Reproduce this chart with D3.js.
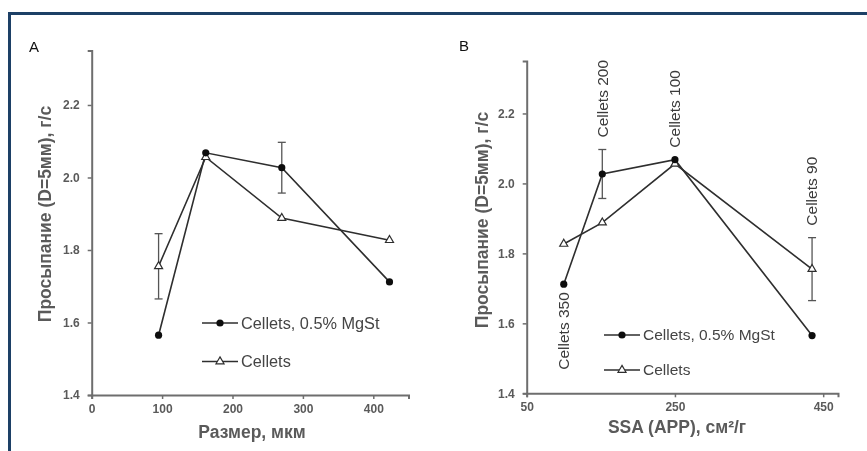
<!DOCTYPE html>
<html>
<head>
<meta charset="utf-8">
<script src="https://cdn.jsdelivr.net/npm/d3@7"></script>
<style>
  html, body { margin: 0; padding: 0; background: #fff; }
  svg { display: block; }
</style>
</head>
<body>
<svg id="chart" width="867" height="451"></svg>
<script>
// Cellets grades measured with and without 0.5% magnesium stearate
const grades = ["Cellets 90", "Cellets 100", "Cellets 200", "Cellets 350"];
const sizeUm = [95, 162, 270, 423];          // particle size, µm
const ssa = [435, 250, 152, 100];            // specific surface area, cm²/g
const mgstFlow = [1.565, 2.068, 2.027, 1.712];
const mgstErr = [0, 0, 0.07, 0];
const plainFlow = [1.755, 2.056, 1.888, 1.827];
const plainErr = [0.09, 0, 0, 0];
const labelSide = ["above", "above", "above", "below"];

const yTicks = [1.4, 1.6, 1.8, 2.0, 2.2];
const xTicksA = [0, 100, 200, 300, 400];
const xTicksB = [50, 250, 450];
const seriesNames = ["Cellets, 0.5% MgSt", "Cellets"];

const yTitle = "Просыпание (D=5мм), г/с";

const FONT = "Arial, 'Liberation Sans', sans-serif";
const svg = d3.select("#chart");

// soft focus filter for the plotted content
const defs = svg.append("defs");
defs.append("filter").attr("id", "soft")
  .attr("x", "-5%").attr("y", "-5%").attr("width", "110%").attr("height", "110%")
  .append("feGaussianBlur").attr("stdDeviation", 0.6);

// frame lines
const frameColor = "#1d4066";
svg.append("rect").attr("x", 8).attr("y", 12).attr("width", 859).attr("height", 3).attr("fill", frameColor);
svg.append("rect").attr("x", 8).attr("y", 12).attr("width", 3).attr("height", 439).attr("fill", frameColor);

const rows = grades.map((g, i) => ({
  grade: g, size: sizeUm[i], ssa: ssa[i],
  mgst: mgstFlow[i], mgstErr: mgstErr[i],
  plain: plainFlow[i], plainErr: plainErr[i],
  side: labelSide[i]
}));

const AXIS = "#6e6e6e";
const LINE = "#2e2e2e";
const TEXT = "#5a5a5a";

function panel(opt) {
  const g = svg.append("g").attr("filter", "url(#soft)");
  const x = d3.scaleLinear().domain(opt.xDomain).range(opt.xRange);
  const y = d3.scaleLinear().domain([1.4, 2.35]).range(opt.yRange);
  const x0 = opt.xRange[0], y0 = opt.yRange[0];

  // axes
  const ya = g.append("g").attr("transform", `translate(${x0},0)`)
    .call(d3.axisLeft(y).tickValues(yTicks).tickFormat(d3.format(".1f")).tickSizeOuter(0).tickSize(4).tickPadding(8));
  const xa = g.append("g").attr("transform", `translate(0,${y0})`)
    .call(d3.axisBottom(x).tickValues(opt.xTicks).tickFormat(d3.format("d")).tickSizeOuter(0).tickSize(4).tickPadding(5));
  [ya, xa].forEach(a => {
    a.select(".domain").attr("stroke", AXIS).attr("stroke-width", 2);
    a.selectAll(".tick line").attr("stroke", AXIS).attr("stroke-width", 1.5);
    a.selectAll(".tick text").attr("fill", TEXT).attr("font-family", FONT)
      .attr("font-size", 12).attr("font-weight", "bold");
  });

  // axis titles
  g.append("text")
    .attr("transform", `translate(${opt.yTitleX},${opt.yTitleY}) rotate(-90)`)
    .attr("text-anchor", "middle").attr("dy", "0.35em")
    .attr("font-family", FONT).attr("font-size", 17.5).attr("font-weight", "bold")
    .attr("fill", TEXT).text(yTitle);
  g.append("text")
    .attr("x", opt.xTitleX).attr("y", opt.xTitleY).attr("text-anchor", "middle").attr("dy", "0.35em")
    .attr("font-family", FONT).attr("font-size", 17.5).attr("font-weight", "bold")
    .attr("fill", TEXT).text(opt.xTitle);

  // panel letter
  svg.append("text").attr("x", opt.letterX).attr("y", opt.letterY).attr("dy", "0.35em")
    .attr("font-family", FONT).attr("font-size", 15)
    .attr("fill", "#111").text(opt.letter);

  const sorted = rows.slice().sort((a, b) => opt.xv(a) - opt.xv(b));
  const line = key => d3.line().x(d => x(opt.xv(d))).y(d => y(d[key]));

  // error bars
  [["mgst", "mgstErr"], ["plain", "plainErr"]].forEach(([k, e]) => {
    sorted.filter(d => d[e] > 0).forEach(d => {
      const cx = x(opt.xv(d));
      g.append("line").attr("x1", cx).attr("x2", cx).attr("y1", y(d[k] - d[e])).attr("y2", y(d[k] + d[e]))
        .attr("stroke", "#555").attr("stroke-width", 1.3);
      [d[k] - d[e], d[k] + d[e]].forEach(v => {
        g.append("line").attr("x1", cx - 4).attr("x2", cx + 4).attr("y1", y(v)).attr("y2", y(v))
          .attr("stroke", "#555").attr("stroke-width", 1.3);
      });
    });
  });

  // series lines
  g.append("path").datum(sorted).attr("d", line("plain")).attr("fill", "none").attr("stroke", LINE).attr("stroke-width", 1.6);
  g.append("path").datum(sorted).attr("d", line("mgst")).attr("fill", "none").attr("stroke", LINE).attr("stroke-width", 1.6);

  const tri = d3.symbol().type(d3.symbolTriangle).size(28);
  g.selectAll(".tri").data(sorted).join("path")
    .attr("transform", d => `translate(${x(opt.xv(d))},${y(d.plain)})`)
    .attr("d", tri).attr("fill", "#fff").attr("stroke", LINE).attr("stroke-width", 1.2);
  g.selectAll(".dot").data(sorted).join("circle")
    .attr("cx", d => x(opt.xv(d))).attr("cy", d => y(d.mgst)).attr("r", 3.6).attr("fill", "#111");

  // legend
  const lg = g.append("g").attr("transform", `translate(${opt.legendX},${opt.legendY})`);
  seriesNames.forEach((name, i) => {
    const ly = i * opt.legendGap;
    lg.append("line").attr("x1", 0).attr("x2", 36).attr("y1", ly).attr("y2", ly).attr("stroke", LINE).attr("stroke-width", 1.6);
    if (i === 0) lg.append("circle").attr("cx", 18).attr("cy", ly).attr("r", 3.6).attr("fill", "#111");
    else lg.append("path").attr("transform", `translate(18,${ly})`).attr("d", tri).attr("fill", "#fff").attr("stroke", LINE).attr("stroke-width", 1.2);
    lg.append("text").attr("x", 39).attr("y", ly).attr("dy", "0.35em")
      .attr("font-family", FONT).attr("font-size", opt.legendFont)
      .attr("fill", "#444").text(name);
  });

  // grade annotations
  if (opt.annotate) {
    sorted.forEach(d => {
      const cx = x(opt.xv(d));
      let ty, anchor;
      if (d.side === "above") {
        const top = Math.max(d.mgst + d.mgstErr, d.plain + d.plainErr);
        ty = y(top) - 12; anchor = "start";
      } else {
        const bottom = Math.min(d.mgst - d.mgstErr, d.plain - d.plainErr);
        ty = y(bottom) + 8; anchor = "end";
      }
      g.append("text").attr("transform", `translate(${cx},${ty}) rotate(-90)`)
        .attr("text-anchor", anchor).attr("dy", "0.35em")
        .attr("font-family", FONT).attr("font-size", 15.5)
        .attr("fill", "#3a3a3a").text(d.grade);
    });
  }
}

panel({
  letter: "A", letterX: 29, letterY: 47,
  xDomain: [0, 450], xRange: [91.7, 408.5], yRange: [395, 50.6],
  xTicks: xTicksA, xv: d => d.size,
  xTitle: "Размер, мкм", xTitleX: 252, xTitleY: 432,
  yTitleX: 45, yTitleY: 214,
  legendX: 202, legendY: 323, legendGap: 38.5, legendFont: 16.3,
  annotate: false
});

panel({
  letter: "B", letterX: 459, letterY: 46,
  xDomain: [50, 470], xRange: [526.7, 838], yRange: [393.3, 61],
  xTicks: xTicksB, xv: d => d.ssa,
  xTitle: "SSA (APP), см²/г", xTitleX: 677, xTitleY: 427,
  yTitleX: 482, yTitleY: 220,
  legendX: 604, legendY: 335, legendGap: 35, legendFont: 15.5,
  annotate: true
});
</script>
</body>
</html>
